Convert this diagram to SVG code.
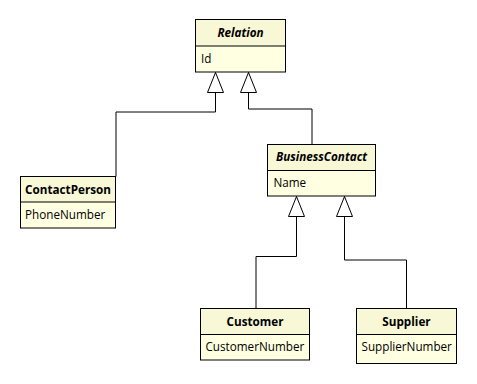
<svg xmlns="http://www.w3.org/2000/svg" width="477" height="384" viewBox="0 0 477 384">
<style>
.hd{fill:#F8F8D6;stroke:none}
.bd{fill:#FFFFE1;stroke:none}
.frame{fill:none;stroke:#000;stroke-width:1}
.div{stroke:#000;stroke-width:1}
.name{font-family:"Open Sans","Liberation Sans",sans-serif;font-size:11.7px;font-weight:bold;text-anchor:middle;fill:#000}
.abs{font-style:italic}
.attr{font-family:"Open Sans","Liberation Sans",sans-serif;font-size:11.7px;fill:#000}
.conn{fill:none;stroke:#000;stroke-width:1;marker-end:url(#gen)}
</style>
<defs>
<marker id="gen" viewBox="0 0 21 17" refX="20.5" refY="8.5" markerWidth="21" markerHeight="17" markerUnits="userSpaceOnUse" orient="auto">
<path d="M0.5,0.5 L20.5,8.5 L0.5,16.5 Z" fill="#fff" stroke="#000" stroke-width="1"/>
</marker>
</defs>
<rect width="477" height="384" fill="#fff"/>
<g id="connectors">
<path class="conn" d="M116,176.5 V112 H215.5 V72.5"/>
<path class="conn" d="M312,144 V109 H248.5 V72.5"/>
<path class="conn" d="M256,308.5 V256.5 H296.5 V196.5"/>
<path class="conn" d="M406.5,308.5 V260 H344.5 V196.5"/>
</g>
<g id="Relation">
<rect class="hd" x="195.5" y="19.5" width="90" height="26.5"/>
<rect class="bd" x="195.5" y="46" width="90" height="26"/>
<rect class="frame" x="195.5" y="19.5" width="90" height="52.5"/>
<line class="div" x1="195.5" y1="46" x2="285.5" y2="46"/>
<text class="name abs" x="240.5" y="37">Relation</text>
<text class="attr" x="201" y="62.5">Id</text>
</g>
<g id="ContactPerson">
<rect class="hd" x="20.5" y="176.5" width="95" height="25.5"/>
<rect class="bd" x="20.5" y="202" width="95" height="26"/>
<rect class="frame" x="20.5" y="176.5" width="95" height="51.5"/>
<line class="div" x1="20.5" y1="202" x2="115.5" y2="202"/>
<text class="name" x="68" y="193.5">ContactPerson</text>
<text class="attr" x="25" y="219">PhoneNumber</text>
</g>
<g id="BusinessContact">
<rect class="hd" x="267.5" y="144.5" width="108" height="26"/>
<rect class="bd" x="267.5" y="170.5" width="108" height="25.5"/>
<rect class="frame" x="267.5" y="144.5" width="108" height="51.5"/>
<line class="div" x1="267.5" y1="170.5" x2="375.5" y2="170.5"/>
<text class="name abs" x="321.5" y="161">BusinessContact</text>
<text class="attr" x="273.5" y="187">Name</text>
</g>
<g id="Customer">
<rect class="hd" x="200.5" y="308.5" width="109" height="26"/>
<rect class="bd" x="200.5" y="334.5" width="109" height="25.5"/>
<rect class="frame" x="200.5" y="308.5" width="109" height="51.5"/>
<line class="div" x1="200.5" y1="334.5" x2="309.5" y2="334.5"/>
<text class="name" x="255" y="325.5">Customer</text>
<text class="attr" x="205.5" y="351">CustomerNumber</text>
</g>
<g id="Supplier">
<rect class="hd" x="356.5" y="308.5" width="100" height="26"/>
<rect class="bd" x="356.5" y="334.5" width="100" height="29"/>
<rect class="frame" x="356.5" y="308.5" width="100" height="55"/>
<line class="div" x1="356.5" y1="334.5" x2="456.5" y2="334.5"/>
<text class="name" x="406.5" y="325.5">Supplier</text>
<text class="attr" x="361.5" y="351">SupplierNumber</text>
</g>
</svg>
